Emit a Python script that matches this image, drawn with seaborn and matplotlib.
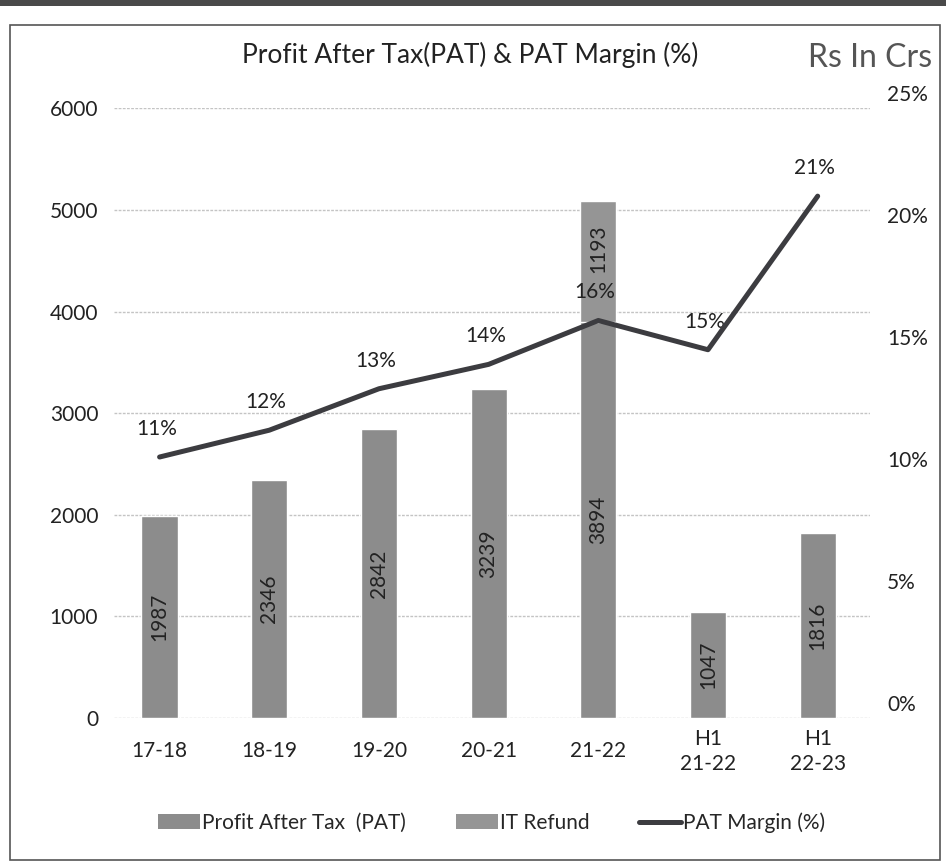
import numpy as np
import pandas as pd
import matplotlib
matplotlib.use("Agg")
import matplotlib.pyplot as plt
import matplotlib.transforms as mtrans
import seaborn as sns
from matplotlib.patches import Rectangle, Patch
from matplotlib.lines import Line2D

categories = ["17-18", "18-19", "19-20", "20-21", "21-22", "H1\n21-22", "H1\n22-23"]
pat = [1987, 2346, 2842, 3239, 3894, 1047, 1816]
it_refund = [0, 0, 0, 0, 1193, 0, 0]
margin = [10.7, 11.8, 13.5, 14.5, 16.3, 15.1, 21.4]
margin_labels = ["11%", "12%", "13%", "14%", "16%", "15%", "21%"]
left_ticks = [0, 1000, 2000, 3000, 4000, 5000, 6000]
right_ticks = [0, 5, 10, 15, 20, 25]

sns.set_theme(style="white")
plt.rcParams["font.family"] = ["Lato", "DejaVu Sans"]

df = pd.DataFrame({"cat": categories, "pat": pat, "refund": it_refund})
df["total"] = df["pat"] + df["refund"]

fig = plt.figure(figsize=(9.46, 8.67), dpi=100)
ax = fig.add_axes([0.12, 0.172, 0.80, 0.703])

bar_col = "#8c8c8c"
ref_col = "#959595"
sns.barplot(data=df, x="cat", y="total", color=ref_col, width=0.33, ax=ax,
            saturation=1, zorder=2)
sns.barplot(data=df, x="cat", y="pat", color=bar_col, width=0.33, ax=ax,
            saturation=1, zorder=3)

ax.set_ylim(0, 6000)
ax.set_yticks(left_ticks)
ax.set_yticklabels([str(t) for t in left_ticks], fontsize=15, color="#222222")
ax.set_xlabel("")
ax.set_ylabel("")
ax.tick_params(axis="x", labelsize=15, colors="#222222", pad=24, length=0)
ax.tick_params(axis="y", length=0, pad=11)
for lab in ax.get_xticklabels():
    lab.set_va("center")
    lab.set_linespacing(1.3)
ax.set_xlim(-0.42, 6.48)
for s in ax.spines.values():
    s.set_visible(False)
ax.grid(axis="y", color="#c4c4c4", linewidth=1, linestyle=(0, (2, 1)), zorder=0)
ax.set_axisbelow(True)

for i, (p, r) in enumerate(zip(pat, it_refund)):
    ax.text(i, p / 2, str(p), rotation=90, ha="center", va="center",
            fontsize=15, color="#222222", zorder=5)
    if r > 0:
        ax.text(i, p + r / 2 + 130, str(r), rotation=90, ha="center", va="center",
                fontsize=15, color="#222222", zorder=5)

ax2 = ax.twinx()
sns.lineplot(x=np.arange(len(categories)), y=margin, ax=ax2, color="#3c3c40",
             linewidth=3.6, zorder=6)
ax2.set_ylim(0, 25)
ax2.set_yticks(right_ticks)
ax2.set_yticklabels([f"{t}%" for t in right_ticks], fontsize=15, color="#222222")
ax2.tick_params(axis="y", length=0, pad=12)
shift = mtrans.ScaledTranslation(0, 15 / 100, fig.dpi_scale_trans)
for lab in ax2.get_yticklabels():
    lab.set_transform(lab.get_transform() + shift)
for s in ax2.spines.values():
    s.set_visible(False)
ax2.grid(False)
for i, (m, lab) in enumerate(zip(margin, margin_labels)):
    ax2.text(i - 0.03, m + 1.15, lab, ha="center", va="center", fontsize=15,
             color="#222222")

fig.text(0.497, 0.937, "Profit After Tax(PAT) & PAT Margin (%)", ha="center",
         va="center", fontsize=19, color="#222222")
fig.text(0.985, 0.933, "Rs In Crs", ha="right", va="center", fontsize=23,
         color="#555555")

handles = [Patch(facecolor=bar_col, edgecolor="none"),
           Patch(facecolor=ref_col, edgecolor="none"),
           Line2D([0], [0], color="#3c3c40", linewidth=3.6)]
fig.legend(handles, ["Profit After Tax  (PAT)", "IT Refund", "PAT Margin (%)"],
           loc="center", bbox_to_anchor=(0.52, 0.051), ncol=3, frameon=False,
           fontsize=15, handlelength=2.0, handletextpad=0.1, columnspacing=2.4)

fig.patches.append(Rectangle((10 / 946, 1 - 860 / 867), 930 / 946, 835 / 867,
                             transform=fig.transFigure, fill=False,
                             edgecolor="#555555", linewidth=1.2))
fig.patches.append(Rectangle((0, 1 - 6 / 867), 1, 6 / 867,
                             transform=fig.transFigure, facecolor="#4a4a4a",
                             edgecolor="none"))

fig.savefig("out.png", dpi=100)
